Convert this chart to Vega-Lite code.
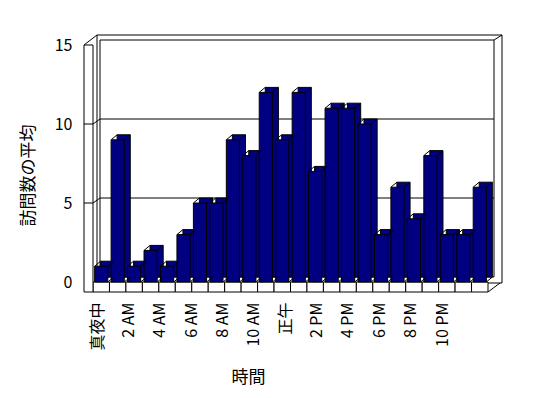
{
  "$schema": "https://vega.github.io/schema/vega-lite/v6.json",
  "width": 395,
  "height": 237,
  "autosize": {"type": "none"},
  "padding": {"left": 93, "top": 45, "right": 60, "bottom": 116},
  "background": "white",
  "config": {
    "view": {"stroke": null},
    "font": "Noto Sans CJK JP",
    "axis": {"labelColor": "black", "titleColor": "black", "labelFont": "Noto Sans CJK JP", "titleFont": "Noto Sans CJK JP"},
    "axisY": {
      "tickCount": 3,
      "domain": false,
      "ticks": false,
      "grid": false,
      "labelPadding": 21,
      "labelFontSize": 16,
      "titleFontSize": 17,
      "titleFontWeight": "normal",
      "titleX": -65,
      "titleY": 130,
      "titleAngle": -90,
      "titleBaseline": "middle",
      "titleAlign": "center"
    }
  },
  "datasets": {
    "visits": [
      {"hour": 0, "label": "真夜中", "visits": 1},
      {"hour": 1, "label": "1 AM", "visits": 9},
      {"hour": 2, "label": "2 AM", "visits": 1},
      {"hour": 3, "label": "3 AM", "visits": 2},
      {"hour": 4, "label": "4 AM", "visits": 1},
      {"hour": 5, "label": "5 AM", "visits": 3},
      {"hour": 6, "label": "6 AM", "visits": 5},
      {"hour": 7, "label": "7 AM", "visits": 5},
      {"hour": 8, "label": "8 AM", "visits": 9},
      {"hour": 9, "label": "9 AM", "visits": 8},
      {"hour": 10, "label": "10 AM", "visits": 12},
      {"hour": 11, "label": "11 AM", "visits": 9},
      {"hour": 12, "label": "正午", "visits": 12},
      {"hour": 13, "label": "1 PM", "visits": 7},
      {"hour": 14, "label": "2 PM", "visits": 11},
      {"hour": 15, "label": "3 PM", "visits": 11},
      {"hour": 16, "label": "4 PM", "visits": 10},
      {"hour": 17, "label": "5 PM", "visits": 3},
      {"hour": 18, "label": "6 PM", "visits": 6},
      {"hour": 19, "label": "7 PM", "visits": 4},
      {"hour": 20, "label": "8 PM", "visits": 8},
      {"hour": 21, "label": "9 PM", "visits": 3},
      {"hour": 22, "label": "10 PM", "visits": 3},
      {"hour": 23, "label": "11 PM", "visits": 6}
    ],
    "grid": [{"g": 5}, {"g": 10}],
    "one": [{"a": 1}]
  },
  "data": {"name": "visits"},
  "resolve": {"scale": {"x": "independent"}, "axis": {"x": "independent"}},
  "layer": [
    {
      "data": {"name": "one"},
      "mark": {"type": "rect", "fill": "white", "stroke": "black", "strokeWidth": 1, "xOffset": 4, "x2Offset": 14, "yOffset": -10, "y2Offset": 1},
      "encoding": {
        "x": {"datum": 0, "type": "quantitative", "scale": {"domain": [0, 1], "nice": false, "zero": false}, "axis": null},
        "x2": {"datum": 1},
        "y": {"datum": 15, "type": "quantitative", "scale": {"domain": [0, 15], "nice": false}, "title": "訪問数の平均"},
        "y2": {"datum": 0}
      }
    },
    {
      "data": {"name": "one"},
      "mark": {"type": "rect", "fill": "white", "stroke": "black", "strokeWidth": 1, "xOffset": 7, "x2Offset": 6, "yOffset": -5, "y2Offset": -5},
      "encoding": {
        "x": {"datum": 0, "type": "quantitative", "scale": {"domain": [0, 1], "nice": false, "zero": false}, "axis": null},
        "x2": {"datum": 1},
        "y": {"datum": 15, "type": "quantitative", "title": "訪問数の平均"},
        "y2": {"datum": 0}
      }
    },
    {
      "data": {"name": "grid"},
      "mark": {"type": "rule", "stroke": "black", "strokeWidth": 1, "xOffset": 7, "x2Offset": 6, "yOffset": -5, "y2Offset": -5},
      "encoding": {
        "x": {"datum": 0, "type": "quantitative", "scale": {"domain": [0, 1], "nice": false, "zero": false}, "axis": null},
        "x2": {"datum": 1},
        "y": {"field": "g", "type": "quantitative", "title": "訪問数の平均"},
        "y2": {"field": "g"}
      }
    },
    {
      "mark": {"type": "bar", "fill": "white", "stroke": "black", "strokeWidth": 1, "y2Offset": 10},
      "encoding": {
        "x": {"field": "hour", "type": "ordinal", "scale": {"paddingInner": 0, "paddingOuter": 0}, "axis": null},
        "y": {"datum": 0, "type": "quantitative", "title": "訪問数の平均"},
        "y2": {"datum": 0}
      }
    },
    {
      "data": {"name": "one"},
      "mark": {"type": "rect", "fill": "white", "stroke": "black", "strokeWidth": 1, "xOffset": -9, "y2Offset": 10},
      "encoding": {
        "x": {"datum": 0, "type": "quantitative", "scale": {"domain": [0, 1], "nice": false, "zero": false}, "axis": null},
        "x2": {"datum": 0},
        "y": {"datum": 15, "type": "quantitative", "title": "訪問数の平均"},
        "y2": {"datum": 0}
      }
    },
    {
      "data": {"name": "one"},
      "mark": {"type": "rule", "stroke": "black", "strokeWidth": 1, "xOffset": -9, "x2Offset": 4, "y2Offset": -10},
      "encoding": {
        "x": {"datum": 0, "type": "quantitative", "scale": {"domain": [0, 1], "nice": false, "zero": false}, "axis": null},
        "x2": {"datum": 0},
        "y": {"datum": 15, "type": "quantitative", "title": "訪問数の平均"},
        "y2": {"datum": 15}
      }
    },
    {
      "data": {"name": "one"},
      "mark": {"type": "rule", "stroke": "black", "strokeWidth": 1, "x2Offset": 12, "yOffset": 10, "y2Offset": 1},
      "encoding": {
        "x": {"datum": 1, "type": "quantitative", "scale": {"domain": [0, 1], "nice": false, "zero": false}, "axis": null},
        "x2": {"datum": 1},
        "y": {"datum": 0, "type": "quantitative", "title": "訪問数の平均"},
        "y2": {"datum": 0}
      }
    },
    {
      "data": {"name": "one"},
      "mark": {"type": "rule", "stroke": "black", "strokeWidth": 1, "xOffset": 6, "x2Offset": 14, "yOffset": -5, "y2Offset": -10},
      "encoding": {
        "x": {"datum": 1, "type": "quantitative", "scale": {"domain": [0, 1], "nice": false, "zero": false}, "axis": null},
        "x2": {"datum": 1},
        "y": {"datum": 15, "type": "quantitative", "title": "訪問数の平均"},
        "y2": {"datum": 15}
      }
    },
    {
      "data": {"name": "grid"},
      "mark": {"type": "rule", "stroke": "black", "strokeWidth": 1, "xOffset": -9},
      "encoding": {
        "x": {"datum": 0, "type": "quantitative", "scale": {"domain": [0, 1], "nice": false, "zero": false}, "axis": null},
        "x2": {"datum": 0},
        "y": {"field": "g", "type": "quantitative", "title": "訪問数の平均"},
        "y2": {"field": "g"}
      }
    },
    {
      "data": {"name": "grid"},
      "mark": {"type": "rule", "stroke": "black", "strokeWidth": 1, "x2Offset": 7, "y2Offset": -5},
      "encoding": {
        "x": {"datum": 0, "type": "quantitative", "scale": {"domain": [0, 1], "nice": false, "zero": false}, "axis": null},
        "x2": {"datum": 0},
        "y": {"field": "g", "type": "quantitative", "title": "訪問数の平均"},
        "y2": {"field": "g"}
      }
    },
    {
      "mark": {"type": "bar", "fill": "#000080", "stroke": "black", "strokeWidth": 1, "width": {"band": 0.8}, "xOffset": 6, "yOffset": -5, "y2Offset": -5},
      "encoding": {
        "x": {"field": "hour", "type": "ordinal", "scale": {"paddingInner": 0, "paddingOuter": 0}, "axis": null},
        "y": {"field": "visits", "type": "quantitative", "title": "訪問数の平均"}
      }
    },
    {
      "mark": {"type": "bar", "fill": "#000080", "stroke": "black", "strokeWidth": 1, "width": {"band": 0.8}},
      "encoding": {
        "x": {"field": "hour", "type": "ordinal", "scale": {"paddingInner": 0, "paddingOuter": 0}, "axis": null},
        "y": {"field": "visits", "type": "quantitative", "title": "訪問数の平均"}
      }
    },
    {
      "mark": {"type": "rule", "stroke": "black", "strokeWidth": 1, "x2Offset": 6, "y2Offset": -5},
      "encoding": {
        "x": {"field": "hour", "type": "ordinal", "bandPosition": 0.9, "scale": {"paddingInner": 0, "paddingOuter": 0}, "axis": null},
        "x2": {"field": "hour", "bandPosition": 0.9},
        "y": {"field": "visits", "type": "quantitative", "title": "訪問数の平均"},
        "y2": {"field": "visits"}
      }
    },
    {
      "mark": {"type": "rule", "stroke": "black", "strokeWidth": 1, "x2Offset": 6, "y2Offset": -5},
      "encoding": {
        "x": {"field": "hour", "type": "ordinal", "bandPosition": 0.1, "scale": {"paddingInner": 0, "paddingOuter": 0}, "axis": null},
        "x2": {"field": "hour", "bandPosition": 0.1},
        "y": {"field": "visits", "type": "quantitative", "title": "訪問数の平均"},
        "y2": {"field": "visits"}
      }
    },
    {
      "mark": {"type": "rule", "stroke": "black", "strokeWidth": 1, "x2Offset": 6, "y2Offset": -5},
      "encoding": {
        "x": {"field": "hour", "type": "ordinal", "bandPosition": 0.9, "scale": {"paddingInner": 0, "paddingOuter": 0}, "axis": null},
        "x2": {"field": "hour", "bandPosition": 0.9},
        "y": {"datum": 0, "type": "quantitative", "title": "訪問数の平均"},
        "y2": {"datum": 0}
      }
    },
    {
      "transform": [{"filter": "datum.hour % 2 == 0"}],
      "mark": {"type": "rule", "strokeOpacity": 0},
      "encoding": {
        "x": {
          "field": "label",
          "type": "nominal",
          "sort": {"field": "hour"},
          "scale": {"type": "point", "range": [4, 349], "padding": 0},
          "axis": {
            "title": "時間",
            "labelAngle": -90,
            "labelPadding": 20,
            "labelFontSize": 16,
            "domain": false,
            "ticks": false,
            "titleFontSize": 17,
            "titleFontWeight": "normal",
            "titleX": 155,
            "titleY": 95,
            "titleBaseline": "middle",
            "titleAlign": "center"
          }
        }
      }
    }
  ]
}
